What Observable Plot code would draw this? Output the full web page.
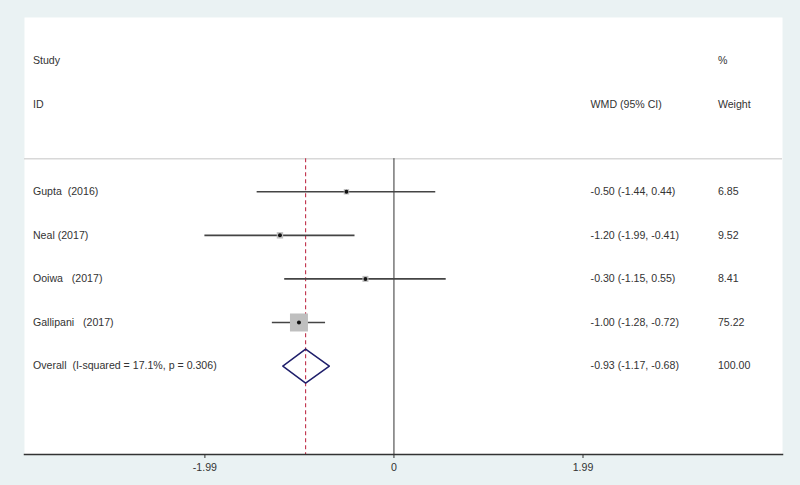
<!DOCTYPE html>
<html><head><meta charset="utf-8">
<script src="https://cdn.jsdelivr.net/npm/d3@7"></script>
<script src="https://cdn.jsdelivr.net/npm/@observablehq/plot@0.6"></script>
<style>
html,body{margin:0;padding:0;background:#eaf2f3;}
svg text{white-space:pre;}
</style></head><body><div id="chart"></div>
<script>
// ---- data ----
const studies = ["Gupta  (2016)", "Neal (2017)", "Ooiwa   (2017)", "Gallipani   (2017)"];
const estimates = [-0.50, -1.20, -0.30, -1.00];
const lower = [-1.44, -1.99, -1.15, -1.28];
const upper = [0.44, -0.41, 0.55, -0.72];
const weights = [6.85, 9.52, 8.41, 75.22];
const overallLabel = "Overall  (I-squared = 17.1%, p = 0.306)";
const overall = {est: -0.93, lo: -1.17, hi: -0.68, w: 100.00};
const tickValues = [-1.99, 0, 1.99];
const tickLabels = ["-1.99", "0", "1.99"];
const headerLeft = ["Study", "ID"];
const headerRight = [{text: "%", col: "w", row: 0}, {text: "WMD (95% CI)", col: "ci", row: 1}, {text: "Weight", col: "w", row: 1}];

// ---- layout (rows & text columns in scale units) ----
const firstStudyRow = 3;
const sepRow = 2.24;
const colStudy = -3.80, colCI = 2.07, colW = 3.41;
const fmt = v => v.toFixed(2);

const rows = studies.map((s, i) => ({
  study: s, est: estimates[i], lo: lower[i], hi: upper[i], w: weights[i],
  row: firstStudyRow + i,
  ci: `${fmt(estimates[i])} (${fmt(lower[i])}, ${fmt(upper[i])})`,
  wt: fmt(weights[i])
}));
const oRow = firstStudyRow + studies.length;
const overallRowData = [{study: overallLabel, row: oRow,
  ci: `${fmt(overall.est)} (${fmt(overall.lo)}, ${fmt(overall.hi)})`, wt: fmt(overall.w)}];
const dh = 0.39;
const diamond = [
  {x: overall.lo, y: oRow}, {x: overall.est, y: oRow - dh},
  {x: overall.hi, y: oRow}, {x: overall.est, y: oRow + dh}, {x: overall.lo, y: oRow}
];
const textRows = rows.concat(overallRowData);
const colX = {ci: colCI, w: colW};

const font = "'Liberation Sans', Arial, sans-serif";
const chart = Plot.plot({
  width: 800, height: 485,
  marginLeft: 24, marginRight: 18, marginTop: 17, marginBottom: 31,
  style: {background: "#eaf2f3", fontFamily: font, fontSize: "10.6px", color: "#333"},
  x: {domain: [-3.889, 4.090], axis: null},
  y: {domain: [-1, 9.03], range: [17, 454], axis: null},
  r: {domain: [0, 75.22], range: [0, 10.15]},
  marks: [
    Plot.frame({fill: "white", stroke: null}),
    Plot.ruleY([sepRow], {stroke: "#d8d8d8", strokeWidth: 1.5}),
    Plot.ruleX([0], {y1: sepRow, y2: 9.03, stroke: "#333", strokeWidth: 1}),
    Plot.ruleX([overall.est], {y1: sepRow, y2: 9.03, stroke: "#c0304a", strokeWidth: 1.1, strokeDasharray: "4,3"}),
    Plot.ruleY(rows, {y: "row", x1: "lo", x2: "hi", stroke: "#444", strokeWidth: 1.6}),
    Plot.dot(rows, {x: "est", y: "row", r: "w", symbol: "square", fill: "#bfbfbf", stroke: null}),
    Plot.dot(rows, {x: "est", y: "row", r: 2, fill: "#111", stroke: null}),
    Plot.line(diamond, {x: "x", y: "y", stroke: "#1f1f6b", strokeWidth: 1.5}),
    Plot.text(headerLeft, {x: colStudy, y: (d, i) => i, text: d => d, textAnchor: "start", fill: "#333"}),
    Plot.text(headerRight, {x: d => colX[d.col], y: "row", text: "text", textAnchor: "start", fill: "#333"}),
    Plot.text(textRows, {x: colStudy, y: "row", text: "study", textAnchor: "start", fill: "#333"}),
    Plot.text(textRows, {x: colCI, y: "row", text: "ci", textAnchor: "start", fill: "#333"}),
    Plot.text(textRows, {x: colW, y: "row", text: "wt", textAnchor: "start", fill: "#333"}),
    Plot.axisX({ticks: tickValues, tickFormat: (d, i) => tickLabels[i], tickSize: 4, tickPadding: 5, stroke: "#333", fill: "#333", fontSize: "10.6px"}),
    Plot.frame({anchor: "bottom", stroke: "#333", strokeWidth: 1.5})
  ]
});
document.getElementById("chart").appendChild(chart);
</script>
</body></html>
